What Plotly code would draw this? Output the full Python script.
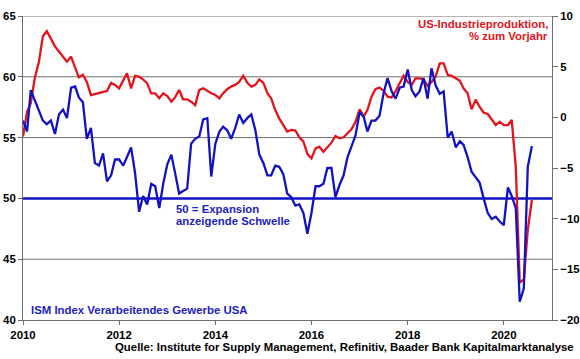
import pandas as pd
import plotly.graph_objects as go

# Monthly observations Dec 2009 .. Jul 2020 (plotted at month end)
start_month = "2009-12"
n_months = 128

ism_pmi = [
    56.4, 55.5, 58.9, 58.1, 57.3, 56.4, 56.1, 56.4, 55.3, 56.9, 57.3, 56.6,
    59.1, 59.2, 58.3, 57.9, 54.9, 55.8, 52.9, 52.7, 53.7, 51.4, 51.9, 53.2,
    53.2, 52.7, 53.4, 54.2, 52.1, 48.9, 50.2, 49.5, 51.2, 51.0, 49.2, 51.2,
    52.8, 53.6, 52.1, 50.4, 50.6, 50.8, 54.5, 54.9, 55.1, 56.5, 56.6, 51.8,
    54.5, 55.5, 55.9, 55.6, 54.9, 55.8, 56.9, 56.2, 56.6, 56.9, 55.6, 53.6,
    52.9, 51.9, 51.9, 52.7, 52.6, 52.0, 50.4, 50.1, 49.4, 49.5, 48.8, 47.1,
    48.8, 51.0, 51.0, 51.2, 52.5, 52.5, 50.1, 51.1, 51.9, 53.4, 54.3, 55.2,
    57.1, 56.7, 55.5, 56.4, 56.4, 56.8, 58.6, 59.9, 58.8, 58.2, 59.1, 59.2,
    60.6, 58.9, 58.4, 58.8, 59.9, 58.2, 60.7, 59.3, 58.6, 58.8, 55.0, 55.5,
    54.2, 54.7, 54.4, 53.4, 52.2, 51.7, 51.3, 50.0, 48.8, 48.3, 48.5, 48.1,
    47.8, 50.9, 50.2, 49.2, 41.5, 42.6, 52.6, 54.3,
]

us_ip_yoy = [
    -1.9, 0.55, 1.4, 3.9, 5.4, 8.0, 8.5, 7.8, 7.0, 6.5, 6.0, 5.5,
    6.0, 4.8, 3.95, 4.2, 3.5, 2.2, 2.3, 2.4, 2.5, 2.6, 3.4, 3.2,
    2.86, 3.7, 4.35, 2.86, 4.1, 4.0, 3.75, 3.36, 2.37, 2.37, 1.88, 2.37,
    2.1, 1.54, 1.97, 2.7, 1.78, 1.78, 1.54, 1.2, 2.7, 2.86, 2.6, 2.37,
    2.2, 1.88, 2.37, 2.77, 3.03, 3.2, 3.5, 4.1, 3.4, 3.03, 3.2, 3.75,
    3.4, 2.37, 1.88, 0.72, -0.1, -0.76, -1.4, -1.25, -1.3, -1.97, -2.4, -3.6,
    -4.05, -3.06, -2.9, -3.4, -2.9, -2.5, -1.84, -2.07, -1.97, -1.58, -1.15, -0.43,
    0.79, 0.07, 0.72, 2.04, 2.77, 2.93, 2.63, 2.04, 1.97, 2.6, 3.36, 4.1,
    3.5, 3.2, 3.85, 3.85, 3.75, 3.1, 3.5, 4.0, 5.33, 5.33, 4.2, 4.1,
    3.85, 3.6, 2.86, 2.37, 0.79, 1.75, 1.05, 0.46, 0.33, -0.2, -0.76, -0.43,
    -0.76, -0.76, -0.26, -4.87, -16.3, -16.0, -11.1, -8.16,
]

year_ticks = [2010, 2012, 2014, 2016, 2018, 2020]
left_ticks = [40, 45, 50, 55, 60, 65]
right_ticks = [-20, -15, -10, -5, 0, 5, 10]
threshold = 50

dates = pd.period_range(start_month, periods=n_months, freq="M").to_timestamp(how="end")

RED = "#e3141b"
BLUE = "#1212c4"
TXT_BLUE = "#2222c0"
GRID = "#6e6e6e"
FONT = "Liberation Sans, Arial, sans-serif"
FS = 11.4

fig = go.Figure()
fig.add_trace(go.Scatter(x=dates, y=us_ip_yoy, mode="lines", yaxis="y",
                         line=dict(color=RED, width=2.3), name="US-Industrieproduktion"))
fig.add_trace(go.Scatter(x=dates, y=ism_pmi, mode="lines", yaxis="y2",
                         line=dict(color=BLUE, width=2.3), name="ISM"))

tickfont = dict(family=FONT, size=FS, color="black", weight="bold")

fig.update_layout(
    width=580, height=359,
    margin=dict(l=23, r=28, t=16, b=39),
    plot_bgcolor="white", paper_bgcolor="white",
    showlegend=False,
    xaxis=dict(
        type="date",
        range=["2010-01-01", "2021-01-01"],
        tickvals=[f"{y}-01-01" for y in year_ticks],
        ticktext=[str(y) for y in year_ticks],
        showgrid=False, zeroline=False,
        showline=True, linecolor=GRID, linewidth=1,
        ticks="outside", ticklen=4, tickcolor=GRID,
        tickfont=tickfont, automargin=False,
    ),
    yaxis=dict(
        side="right",
        range=[-20, 10], tickvals=right_ticks,
        showgrid=False, zeroline=False,
        showline=True, linecolor=GRID, linewidth=1,
        ticks="outside", ticklen=5, tickcolor=GRID,
        tickfont=tickfont, automargin=False,
    ),
    yaxis2=dict(
        overlaying="y", side="left",
        range=[40, 65], tickvals=left_ticks,
        showgrid=False, zeroline=False,
        showline=True, linecolor=GRID, linewidth=1,
        ticks="outside", ticklen=4, tickcolor=GRID,
        tickfont=tickfont, automargin=False,
    ),
)

# horizontal grid lines at the left-axis ticks (except the threshold)
for t in left_ticks[1:]:
    if t == threshold:
        continue
    fig.add_shape(type="line", xref="paper", yref="y2", x0=0, x1=1, y0=t, y1=t,
                  line=dict(color=GRID, width=1), layer="below")

# 50 = expansion threshold line
fig.add_shape(type="line", xref="paper", yref="y2", x0=0, x1=1,
              y0=threshold, y1=threshold,
              line=dict(color=BLUE, width=2.5), layer="below")

def px_x(px):
    return (px - 23) / 529.0

def px_y(py):
    return (320 - py) / 304.0

def ann(text, x, y, color, xanchor):
    fig.add_annotation(text=text, xref="paper", yref="paper", x=x, y=y,
                       xanchor=xanchor, yanchor="middle", showarrow=False,
                       font=dict(family=FONT, size=FS, color=color, weight="bold"))

ann("US-Industrieproduktion,", px_x(550), px_y(23.5), RED, "right")
ann("% zum Vorjahr", px_x(550), px_y(35.5), RED, "right")
ann("50 = Expansion", px_x(174), px_y(209), TXT_BLUE, "left")
ann("anzeigende Schwelle", px_x(174), px_y(221), TXT_BLUE, "left")
ann("ISM Index Verarbeitendes Gewerbe USA", px_x(29), px_y(310), TXT_BLUE, "left")
ann("Quelle: Institute for Supply Management, Refinitiv, Baader Bank Kapitalmarktanalyse",
    px_x(576), px_y(347), "black", "right")

fig.write_html("out.html",
               config={"displayModeBar": False},
               post_script="document.body.style.margin='0';document.body.style.padding='0';")
